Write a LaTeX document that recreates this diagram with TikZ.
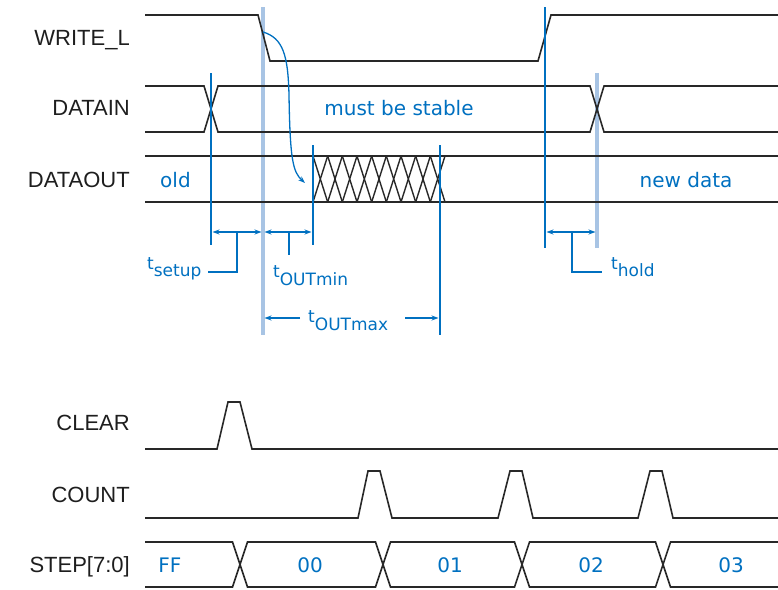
\documentclass[tikz,border=0pt]{standalone}
\usepackage{fontspec}
\setmainfont{Liberation Sans}
\newfontfamily\bluefont{DejaVu Sans}
\usetikzlibrary{arrows.meta}
\definecolor{sigblue}{RGB}{0,112,192}
\definecolor{lightblue}{RGB}{168,196,228}
\definecolor{sigline}{RGB}{40,40,40}
\definecolor{labelgray}{RGB}{30,30,30}
\begin{document}
\begin{tikzpicture}[x=1pt,y=-1pt,
  sig/.style={draw=sigline,line width=1.6pt,line join=miter},
  vthin/.style={draw=sigblue,line width=1.7pt},
  vthick/.style={draw=lightblue,line width=4pt},
  lbl/.style={font=\fontsize{22}{22}\selectfont,text=labelgray,anchor=base east,inner sep=0pt},
  btxt/.style={font=\bluefont\fontsize{20}{20}\selectfont,text=sigblue,anchor=base,inner sep=0pt},
  ttxt/.style={font=\bluefont\fontsize{17}{17}\selectfont,text=sigblue,anchor=base west,inner sep=0pt},
  dim/.style={draw=sigblue,line width=1.4pt},
  tip/.style={-{Stealth[length=7pt,width=5pt]}},
  tips/.style={{Stealth[length=7pt,width=5pt]}-{Stealth[length=7pt,width=5pt]}},
]
\newcommand{\subtxt}[2]{\raisebox{-#1pt}{\fontsize{17}{17}\selectfont #2}}
\useasboundingbox (0,0) rectangle (778,589);

% light blue reference lines (behind)
\draw[vthick] (263,7) -- (263,335);
\draw[vthick] (597,73) -- (597,248);

% signal labels
\node[lbl] (lw) at (130,45) {WRITE\_L};
\node[lbl] (ldi) at (130,115) {DATAIN};
\node[lbl] (ldo) at (130,187) {DATAOUT};
\node[lbl] (lcl) at (130,430) {CLEAR};
\node[lbl] (lco) at (130,502) {COUNT};
\node[lbl] (lst) at (130,572) {STEP[7:0]};

% WRITE_L
\draw[sig] (145,15) -- (258,15) -- (270,61) -- (538,61) -- (551,15) -- (778,15);
% DATAIN
\draw[sig] (145,86) -- (204,86) -- (218,132) -- (590,132) -- (604,86) -- (778,86);
\draw[sig] (145,132) -- (204,132) -- (218,86) -- (590,86) -- (604,132) -- (778,132);
% DATAOUT
\draw[sig] (145,156) -- (778,156);
\draw[sig] (145,202) -- (778,202);
\foreach \i in {0,...,8}{
  \pgfmathsetmacro{\xa}{313+\i*14.667}
  \pgfmathsetmacro{\xb}{313+(\i+1)*14.667}
  \draw[sig,line width=1.4pt] (\xa,156) -- (\xb,202);
  \draw[sig,line width=1.4pt] (\xa,202) -- (\xb,156);
}
% CLEAR
\draw[sig] (145,449) -- (217,449) -- (228,402) -- (240,402) -- (252,449) -- (778,449);
% COUNT
\draw[sig] (145,518) -- (358,518) -- (368,471) -- (380,471) -- (392,518)
  -- (498,518) -- (510,471) -- (522,471) -- (533,518)
  -- (638,518) -- (650,471) -- (662,471) -- (673,518) -- (778,518);
% STEP[7:0]
\draw[sig] (145,542) -- (232.5,542) -- (247.5,587) -- (375.5,587) -- (390.5,542)
  -- (514.5,542) -- (529.5,587) -- (655.5,587) -- (670.5,542) -- (778,542);
\draw[sig] (145,587) -- (232.5,587) -- (247.5,542) -- (375.5,542) -- (390.5,587)
  -- (514.5,587) -- (529.5,542) -- (655.5,542) -- (670.5,587) -- (778,587);

% thin blue reference lines
\draw[vthin] (211,73) -- (211,245);
\draw[vthin] (313,145) -- (313,245);
\draw[vthin] (440,145) -- (440,335);
\draw[vthin] (545,7) -- (545,248);

% causal arrow
\draw[sigblue,line width=1.3pt,tip] (263,32) .. controls (283,38) and (288,55) .. (289,95)
  .. controls (290,160) and (293,172) .. (305,183);

% data texts
\node[btxt] (must) at (399,115) {must be stable};
\node[btxt,anchor=base west] (old) at (160,187) {old};
\node[btxt] (new) at (686,187) {new data};
\node[btxt] (ff) at (170,572) {FF};
\node[btxt] (s00) at (310,572) {00};
\node[btxt] (s01) at (450,572) {01};
\node[btxt] (s02) at (591,572) {02};
\node[btxt] (s03) at (731,572) {03};

% timing dimensions
\coordinate (su1) at (211,232); \coordinate (su2) at (263,232);
\coordinate (om1) at (263,232); \coordinate (om2) at (313,232);
\coordinate (ho1) at (545,232); \coordinate (ho2) at (597,232);
\draw[dim,tips,shorten <=1.5pt,shorten >=1.5pt] (su1) -- (su2);
\draw[dim,tips,shorten <=1.5pt,shorten >=1.5pt] (om1) -- (om2);
\draw[dim,tips,shorten <=1.5pt,shorten >=1.5pt] (ho1) -- (ho2);
\draw[dim] (237,232) -- (237,272) -- (208,272);
\draw[dim] (289,232) -- (289,255);
\draw[dim] (572,232) -- (572,272) -- (602,272);
\coordinate (mx1) at (263,318); \coordinate (mx2) at (440,318);
\draw[dim,tip,shorten >=1.5pt] (300,318) -- (mx1);
\draw[dim,tip,shorten >=1.5pt] (405,318) -- (mx2);

\node[ttxt] (tsu) at (147,269) {t\subtxt{7}{setup}};
\node[ttxt] (tomin) at (273,277) {t\subtxt{8}{OUTmin}};
\node[ttxt] (tomax) at (308,322) {t\subtxt{8}{OUTmax}};
\node[ttxt] (tho) at (611,269) {t\subtxt{7}{hold}};
\end{tikzpicture}
\end{document}
